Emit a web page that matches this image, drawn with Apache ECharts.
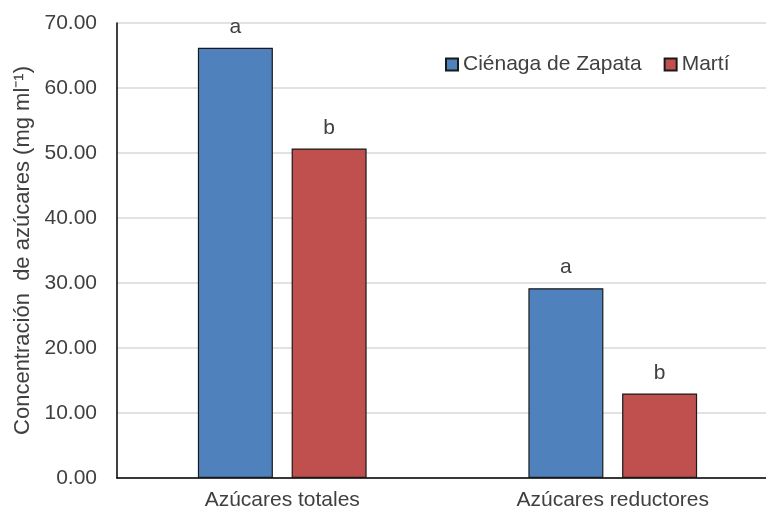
<!DOCTYPE html>
<html>
<head>
<meta charset="utf-8">
<script src="https://cdn.jsdelivr.net/npm/echarts@6/dist/echarts.min.js"></script>
<style>
  html, body { margin: 0; padding: 0; background: #fff; }
  #chart { width: 766px; height: 513px; }
</style>
</head>
<body>
<div id="chart"></div>
<script>
const categories = ["Azúcares totales", "Azúcares reductores"];
const cienagaValues = [66.2, 29.2];
const martiValues = [50.7, 13.0];
const cienagaLetters = ["a", "a"];
const martiLetters = ["b", "b"];

const font = "'Liberation Sans', Arial, sans-serif";
const chart = echarts.init(document.getElementById("chart"));

const option = {
  animation: false,
  textStyle: { fontFamily: font },
  legend: {
    top: 54,
    left: 445,
    padding: 0,
    itemWidth: 12,
    itemHeight: 12,
    itemGap: 22,
    icon: "rect",
    textStyle: { fontSize: 21, color: "#404040", fontFamily: font },
    data: ["Ciénaga de Zapata", "Martí"]
  },
  // the gridlines run off the right edge in the original
  grid: { left: 117, right: -12, top: 23, bottom: 35, outerBoundsMode: "none" },
  xAxis: {
    type: "category",
    data: categories,
    axisLine: { lineStyle: { color: "#000", width: 1.5 } },
    axisTick: { show: false },
    axisLabel: { fontSize: 21, color: "#404040", margin: 12 }
  },
  yAxis: {
    type: "value",
    min: 0,
    max: 70,
    interval: 10,
    name: "Concentración  de azúcares (mg ml⁻¹)",
    nameLocation: "middle",
    nameGap: 82,
    nameTextStyle: { fontSize: 22, color: "#404040" },
    axisLine: { show: true, lineStyle: { color: "#000", width: 1.5 } },
    axisTick: { show: false },
    axisLabel: {
      fontSize: 21,
      color: "#404040",
      margin: 20,
      formatter: v => v.toFixed(2)
    },
    splitLine: { lineStyle: { color: "#d9d9d9", width: 1.5 } }
  },
  series: [
    {
      name: "Ciénaga de Zapata",
      type: "bar",
      data: cienagaValues,
      barWidth: 75,
      barGap: "25%",
      itemStyle: { color: "#4f81bd", borderColor: "#1a1a1a", borderWidth: 1.2 },
      label: {
        show: true,
        position: "top",
        distance: 10,
        fontSize: 21,
        color: "#404040",
        formatter: p => cienagaLetters[p.dataIndex]
      }
    },
    {
      name: "Martí",
      type: "bar",
      data: martiValues,
      barWidth: 75,
      barGap: "25%",
      itemStyle: { color: "#c0504d", borderColor: "#1a1a1a", borderWidth: 1.2 },
      label: {
        show: true,
        position: "top",
        distance: 10,
        fontSize: 21,
        color: "#404040",
        formatter: p => martiLetters[p.dataIndex]
      }
    }
  ]
};

chart.setOption(option);
</script>
</body>
</html>
